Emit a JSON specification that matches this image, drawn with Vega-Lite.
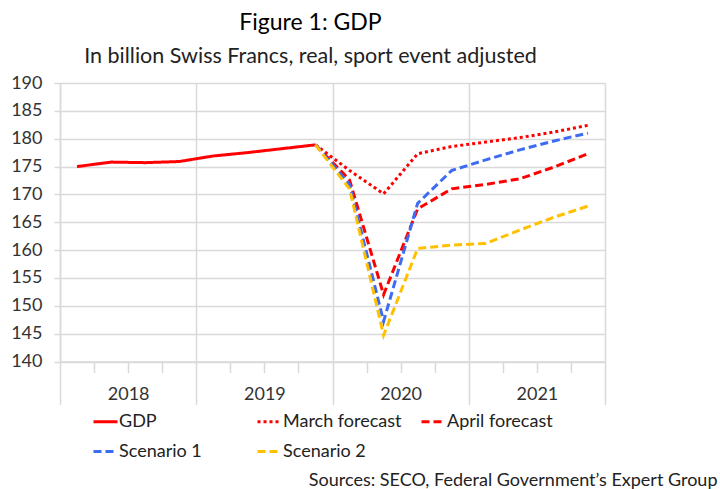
{
  "$schema": "https://vega.github.io/schema/vega-lite/v6.json",
  "autosize": {"type": "none"},
  "width": 545,
  "height": 278.5,
  "padding": {"left": 60, "top": 83, "right": 115, "bottom": 127.5},
  "background": "white",
  "title": {
    "text": "Figure 1: GDP",
    "subtitle": "In billion Swiss Francs, real, sport event adjusted",
    "anchor": "middle",
    "frame": "group",
    "dx": -22,
    "offset": 7,
    "font": "Lato",
    "fontSize": 23,
    "fontWeight": "normal",
    "color": "#000000",
    "subtitleFont": "Lato",
    "subtitleFontSize": 21.5,
    "subtitleColor": "#222222",
    "subtitlePadding": 11
  },
  "data": {
    "values": [
      {"series": "GDP", "q": 0.5, "v": 175.0},
      {"series": "GDP", "q": 1.5, "v": 175.8},
      {"series": "GDP", "q": 2.5, "v": 175.7},
      {"series": "GDP", "q": 3.5, "v": 175.9},
      {"series": "GDP", "q": 4.5, "v": 176.9},
      {"series": "GDP", "q": 5.5, "v": 177.5},
      {"series": "GDP", "q": 6.5, "v": 178.2},
      {"series": "GDP", "q": 7.5, "v": 178.9},
      {"series": "March forecast", "q": 7.5, "v": 178.9},
      {"series": "March forecast", "q": 8.5, "v": 174.3},
      {"series": "March forecast", "q": 9.5, "v": 170.1},
      {"series": "March forecast", "q": 10.5, "v": 177.3},
      {"series": "March forecast", "q": 11.5, "v": 178.6},
      {"series": "March forecast", "q": 12.5, "v": 179.4},
      {"series": "March forecast", "q": 13.5, "v": 180.2},
      {"series": "March forecast", "q": 14.5, "v": 181.2},
      {"series": "March forecast", "q": 15.5, "v": 182.4},
      {"series": "April forecast", "q": 7.5, "v": 178.9},
      {"series": "April forecast", "q": 8.5, "v": 172.6},
      {"series": "April forecast", "q": 9.5, "v": 152.0},
      {"series": "April forecast", "q": 10.5, "v": 167.4},
      {"series": "April forecast", "q": 11.5, "v": 171.0},
      {"series": "April forecast", "q": 12.5, "v": 171.8},
      {"series": "April forecast", "q": 13.5, "v": 172.8},
      {"series": "April forecast", "q": 14.5, "v": 174.9},
      {"series": "April forecast", "q": 15.5, "v": 177.3},
      {"series": "Scenario 1", "q": 7.5, "v": 178.9},
      {"series": "Scenario 1", "q": 8.5, "v": 171.8},
      {"series": "Scenario 1", "q": 9.5, "v": 147.2},
      {"series": "Scenario 1", "q": 10.5, "v": 168.4},
      {"series": "Scenario 1", "q": 11.5, "v": 174.3},
      {"series": "Scenario 1", "q": 12.5, "v": 176.2},
      {"series": "Scenario 1", "q": 13.5, "v": 178.0},
      {"series": "Scenario 1", "q": 14.5, "v": 179.6},
      {"series": "Scenario 1", "q": 15.5, "v": 181.0},
      {"series": "Scenario 2", "q": 7.5, "v": 178.9},
      {"series": "Scenario 2", "q": 8.5, "v": 171.0},
      {"series": "Scenario 2", "q": 9.5, "v": 144.7},
      {"series": "Scenario 2", "q": 10.5, "v": 160.3},
      {"series": "Scenario 2", "q": 11.5, "v": 160.9},
      {"series": "Scenario 2", "q": 12.5, "v": 161.2},
      {"series": "Scenario 2", "q": 13.5, "v": 163.6},
      {"series": "Scenario 2", "q": 14.5, "v": 165.9},
      {"series": "Scenario 2", "q": 15.5, "v": 167.9}
    ]
  },
  "mark": {"type": "line", "strokeWidth": 3, "clip": false},
  "encoding": {
    "x": {
      "field": "q",
      "type": "quantitative",
      "scale": {"domain": [0, 16], "nice": false, "zero": false},
      "axis": {
        "values": [0, 1, 2, 3, 4, 5, 6, 7, 8, 9, 10, 11, 12, 13, 14, 15, 16],
        "labelExpr": "datum.value % 4 == 2 ? '' + (2018 + floor(datum.value / 4)) : ''",
        "labelFlush": false,
        "labelOverlap": false,
        "labelFont": "Lato",
        "labelFontSize": 18,
        "labelColor": "#333333",
        "labelPadding": 13,
        "grid": true,
        "gridColor": {"condition": {"test": "datum.value % 4 == 0", "value": "#d9d9d9"}, "value": "transparent"},
        "gridWidth": 1.5,
        "tickSize": {"condition": {"test": "datum.value % 4 == 0", "value": 43}, "value": 11},
        "tickColor": "#d9d9d9",
        "tickWidth": 1.5,
        "domainColor": "#d9d9d9",
        "domainWidth": 1.5,
        "title": "Sources: SECO, Federal Government’s Expert Group",
        "titleX": 657,
        "titleY": 124,
        "titleAlign": "right",
        "titleAnchor": null,
        "titleBaseline": "alphabetic",
        "titleFont": "Lato",
        "titleFontSize": 18,
        "titleFontWeight": "normal",
        "titleColor": "#222222"
      }
    },
    "y": {
      "field": "v",
      "type": "quantitative",
      "scale": {"domain": [140, 190], "nice": false, "zero": false},
      "axis": {
        "values": [140, 145, 150, 155, 160, 165, 170, 175, 180, 185, 190],
        "title": null,
        "labelFont": "Lato",
        "labelFontSize": 18,
        "labelColor": "#333333",
        "labelPadding": 12,
        "tickSize": 6,
        "tickColor": "#d9d9d9",
        "tickWidth": 1.5,
        "gridColor": "#d9d9d9",
        "gridWidth": 1.5,
        "domainColor": "#d9d9d9",
        "domainWidth": 1.5
      }
    },
    "color": {
      "field": "series",
      "type": "nominal",
      "scale": {
        "domain": ["GDP", "March forecast", "April forecast", "Scenario 1", "Scenario 2"],
        "range": ["#ff0000", "#ff0000", "#ff0000", "#3d6cf2", "#ffc000"]
      },
      "legend": {"title": null}
    },
    "strokeDash": {
      "field": "series",
      "type": "nominal",
      "scale": {
        "domain": ["GDP", "March forecast", "April forecast", "Scenario 1", "Scenario 2"],
        "range": [[1, 0], [3, 3], [8, 4], [8, 4], [8, 4]]
      },
      "legend": {"title": null}
    },
    "order": {"field": "q", "type": "quantitative"}
  },
  "config": {
    "view": {"stroke": null},
    "legend": {
      "orient": "none",
      "legendX": 32,
      "legendY": 325,
      "direction": "horizontal",
      "columns": 3,
      "gridAlign": "all",
      "columnPadding": 13,
      "rowPadding": 7,
      "symbolType": "stroke",
      "symbolSize": 576,
      "symbolStrokeWidth": 3,
      "labelFont": "Lato",
      "labelFontSize": 18,
      "labelColor": "#222222",
      "labelOffset": 0,
      "labelLimit": 300
    }
  }
}
